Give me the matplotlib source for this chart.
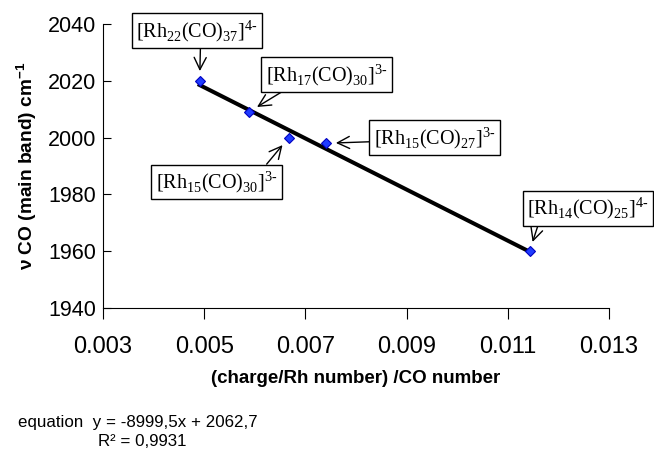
import numpy as np
import matplotlib.pyplot as plt

plt.rcParams['font.family'] = ['Liberation Sans', 'DejaVu Sans']
plt.rcParams['mathtext.fontset'] = 'custom'
plt.rcParams['mathtext.rm'] = 'Liberation Serif'
plt.rcParams['mathtext.bf'] = 'Liberation Sans:bold'

# cluster data: (charge/Rh number)/CO number vs main CO band
clusters = [r"[Rh$_{\mathrm{22}}$(CO)$_{\mathrm{37}}$]$^{\mathrm{4}\text{-}}$",
            r"[Rh$_{\mathrm{17}}$(CO)$_{\mathrm{30}}$]$^{\mathrm{3}\text{-}}$",
            r"[Rh$_{\mathrm{15}}$(CO)$_{\mathrm{30}}$]$^{\mathrm{3}\text{-}}$",
            r"[Rh$_{\mathrm{15}}$(CO)$_{\mathrm{27}}$]$^{\mathrm{3}\text{-}}$",
            r"[Rh$_{\mathrm{14}}$(CO)$_{\mathrm{25}}$]$^{\mathrm{4}\text{-}}$"]
x_vals = [0.00491, 0.00588, 0.00667, 0.00741, 0.01143]
nu_co = [2020, 2009, 2000, 1998, 1960]

# trendline printed on the chart
slope = -8999.5
intercept = 2062.7

# label box offsets (points) and arrow start on box
label_offsets = [(-2, 36), (56, 27), (-52, -32), (78, 4), (42, 31)]
arrow_relpos = [(0.53, 0.0), (0.19, 0.0), (0.88, 1.0), (0.0, 0.35), (0.1, 0.0)]

fig = plt.figure(figsize=(6.54, 4.51), dpi=100)
ax = fig.add_axes([103 / 654, 1 - 308 / 451, 506 / 654, 284 / 451])

xs = np.array([min(x_vals), max(x_vals)])
ax.plot(xs, slope * xs + intercept, color='black', lw=2.9, zorder=2)
ax.plot(x_vals, nu_co, ls='none', marker='D', ms=5.5, mfc='#1f3cff',
        mec='#0000c0', mew=0.8, zorder=3)

for lab, x, y, off, rp in zip(clusters, x_vals, nu_co, label_offsets, arrow_relpos):
    ax.annotate(lab, xy=(x, y), xytext=off, textcoords='offset points',
                ha='center', va='center', fontsize=14.5, family='Liberation Serif',
                bbox=dict(boxstyle='square,pad=0.22', fc='white', ec='black', lw=1),
                arrowprops=dict(arrowstyle='->,head_length=0.6,head_width=0.3',
                                color='black', lw=1, relpos=rp,
                                shrinkA=0, shrinkB=7))

ax.set_xlim(0.003, 0.013)
ax.set_ylim(1940, 2040)
ax.set_xticks([0.003, 0.005, 0.007, 0.009, 0.011, 0.013])
ax.set_xticklabels(['0.003', '0.005', '0.007', '0.009', '0.011', '0.013'])
ax.set_yticks([1940, 1960, 1980, 2000, 2020, 2040])

ax.spines['top'].set_visible(False)
ax.spines['right'].set_visible(False)
ax.tick_params(axis='x', direction='out', length=8, pad=12, labelsize=17)
ax.tick_params(axis='y', direction='in', length=6, pad=5, labelsize=15.5)

ax.set_xlabel('(charge/Rh number) /CO number', fontsize=13.5, fontweight='bold', labelpad=9)
ax.set_ylabel(r'ν CO (main band) cm$^{\mathbf{-1}}$', fontsize=13.8, fontweight='bold', labelpad=6)

fig.text(18 / 654, 1 - 422 / 451, 'equation  y = -8999,5x + 2062,7', fontsize=12.2, va='center')
fig.text(98 / 654, 1 - 442 / 451, 'R² = 0,9931', fontsize=12.2, va='center')

plt.savefig('out.png', dpi=100)
